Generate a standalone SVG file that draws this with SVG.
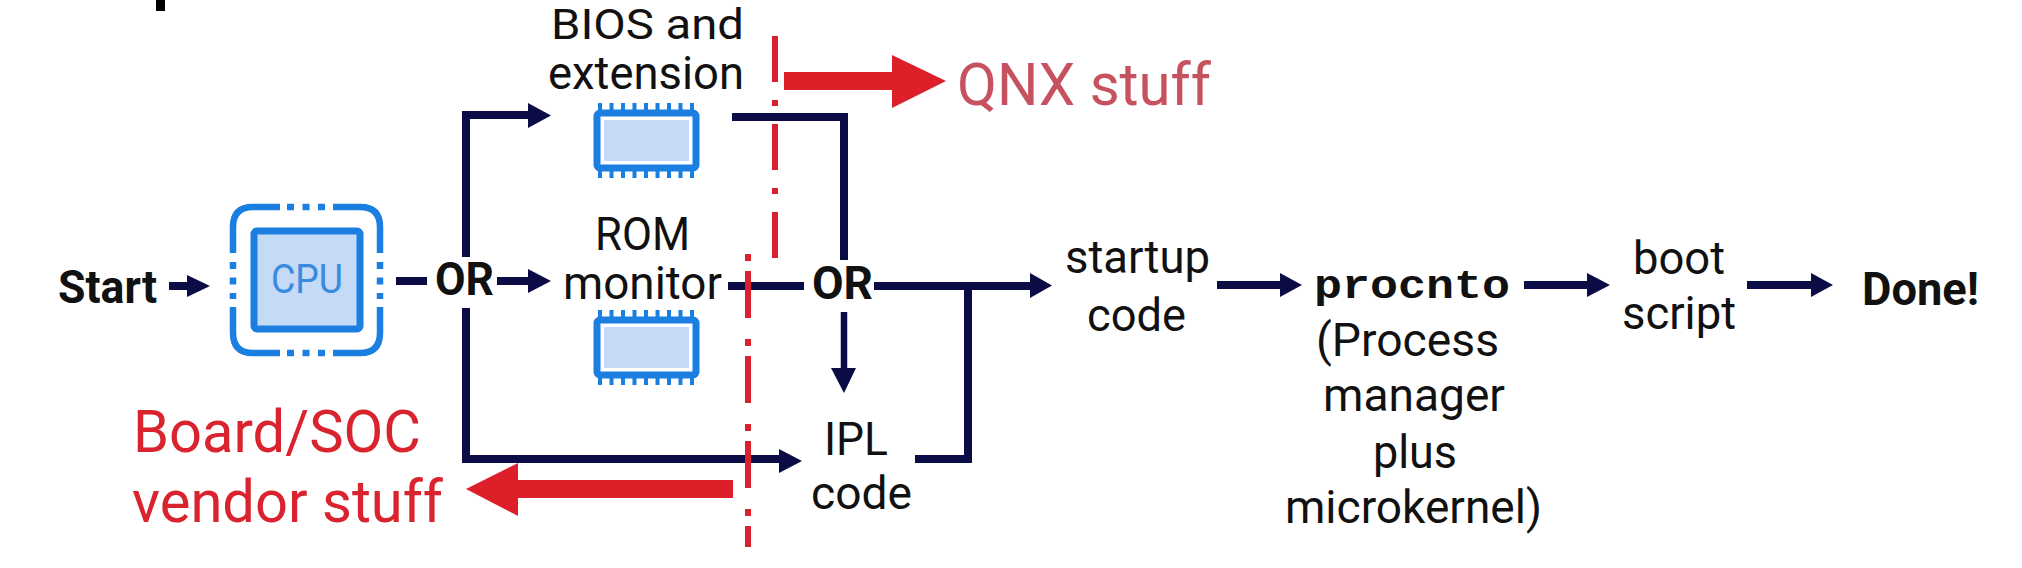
<svg xmlns="http://www.w3.org/2000/svg" width="2022" height="568" viewBox="0 0 2022 568">
<style>
text{font-family:Roboto,"Liberation Sans",sans-serif;fill:#111;font-size:46px}
.b{font-weight:700;font-size:46px}
.m{font-family:"Liberation Mono",monospace;font-weight:700;font-size:41px}
.r{fill:#d9232e;font-size:59px}
.q{fill:#c5525e;font-size:59px}
.c{fill:none;stroke:#0b0b45;stroke-width:8}
.h{fill:#0b0b45;stroke:none}
.red{fill:#dd1f2a}
.dd{fill:none;stroke:#dc2030;stroke-width:6}
.blue{fill:none;stroke:#1a7fe0;stroke-width:7}
.fill{fill:#c5daf6}
</style>
<defs>
<g id="chip">
<path d="M600 103V113M611.500 103V113M623 103V113M634.500 103V113M646 103V113M657.500 103V113M669 103V113M680.500 103V113M692 103V113M600 168V178M611.500 168V178M623 168V178M634.500 168V178M646 168V178M657.500 168V178M669 168V178M680.500 168V178M692 168V178" fill="none" stroke="#1a7fe0" stroke-width="4"/>
<rect x="597" y="113" width="99" height="55" rx="3" class="blue"/>
<rect x="604" y="120" width="85" height="41" class="fill"/>
</g>
</defs>
<rect x="156" y="0" width="9" height="11" fill="#000"/>
<g id="connectors">
<path class="c" d="M396 281H427"/>
<path class="c" d="M169 286H190"/><path class="h" d="M187 275L210 286L187 297Z"/>
<path class="c" d="M466 257V115H530"/><path class="h" d="M528 103L551 115.500L528 128Z"/>
<path class="c" d="M497 281H530"/><path class="h" d="M528 269L551 281L528 293Z"/>
<path class="c" d="M466 308V459H782"/><path class="h" d="M779 449L802 461L779 473Z"/>
<path class="c" d="M732 117H844V260"/>
<path class="c" d="M728 286H804"/>
<path class="c" d="M874 286H1032"/><path class="h" d="M1030 273L1052 285.500L1030 298Z"/>
<path class="c" style="stroke-width:6.500" d="M844 312V370"/><path class="h" d="M831 368H856L844 393Z"/>
<path class="c" d="M915 459H968V286"/>
<path class="c" d="M1217 285H1282"/><path class="h" d="M1280 273L1302 285L1280 297Z"/>
<path class="c" d="M1524 285H1589"/><path class="h" d="M1587 273L1610 285L1587 297Z"/>
<path class="c" d="M1747 285H1813"/><path class="h" d="M1811 273L1833 285L1811 297Z"/>
</g>
<g id="boundaries">
<path class="red" d="M733 480V498H518V516L466 489L518 463V480Z"/>
<path class="red" d="M784 72V90H892V108L946 81L892 55V72Z"/>
<path class="dd" stroke-dasharray="46 18 6 18" d="M775 36V258"/>
<path class="dd" stroke-dasharray="7 10 47 21" d="M748 254V547"/>
</g>
<g id="cpu">
<rect x="254" y="231" width="106" height="98" rx="3" class="fill"/>
<rect x="254" y="231" width="106" height="98" rx="3" class="blue"/>
<path class="blue" style="stroke-width:6.500" d="M233 253V227Q233 207 253 207H280M333 207H360Q380 207 380 227V253M233 307V333Q233 353 253 353H280M333 353H360Q380 353 380 333V307"/>
<path class="blue" style="stroke-width:6.500" stroke-dasharray="7 8.500" d="M287 207H327M287 353H327M233 262V299M380 262V299"/>
<text x="271" y="293" textLength="72" lengthAdjust="spacingAndGlyphs" style="fill:#3a8ade;font-size:41px">CPU</text>
</g>
<g id="start"><text class="b" x="58" y="303" textLength="99" lengthAdjust="spacingAndGlyphs">Start</text></g>
<g id="or1"><text class="b" x="435" y="295" textLength="59" lengthAdjust="spacingAndGlyphs">OR</text></g>
<g id="or2"><text class="b" x="812" y="299" textLength="61" lengthAdjust="spacingAndGlyphs">OR</text></g>
<g id="bios">
<text x="551" y="39" textLength="193" lengthAdjust="spacingAndGlyphs" style="font-size:42px">BIOS and</text>
<text x="548" y="89" textLength="196" lengthAdjust="spacingAndGlyphs">extension</text>
<use href="#chip"/>
</g>
<g id="rom">
<text x="595" y="250" textLength="95" lengthAdjust="spacingAndGlyphs">ROM</text>
<text x="563" y="299" textLength="159" lengthAdjust="spacingAndGlyphs">monitor</text>
<use href="#chip" y="207"/>
</g>
<g id="ipl">
<text x="824" y="455" textLength="64" lengthAdjust="spacingAndGlyphs">IPL</text>
<text x="811" y="509" textLength="101" lengthAdjust="spacingAndGlyphs">code</text>
</g>
<g id="startup">
<text x="1065" y="273" textLength="145" lengthAdjust="spacingAndGlyphs">startup</text>
<text x="1087" y="331" textLength="99" lengthAdjust="spacingAndGlyphs">code</text>
</g>
<g id="procnto">
<text class="m" x="1314" y="298" textLength="196" lengthAdjust="spacingAndGlyphs">procnto</text>
<text x="1316" y="356" textLength="183" lengthAdjust="spacingAndGlyphs">(Process</text>
<text x="1323" y="411" textLength="182" lengthAdjust="spacingAndGlyphs">manager</text>
<text x="1373" y="468" textLength="84" lengthAdjust="spacingAndGlyphs">plus</text>
<text x="1285" y="523" textLength="257" lengthAdjust="spacingAndGlyphs">microkernel)</text>
</g>
<g id="boot">
<text x="1633" y="274" textLength="92" lengthAdjust="spacingAndGlyphs">boot</text>
<text x="1622" y="329" textLength="114" lengthAdjust="spacingAndGlyphs">script</text>
</g>
<g id="done"><text class="b" x="1862" y="305" textLength="117" lengthAdjust="spacingAndGlyphs">Done!</text></g>
<g id="vendor">
<text class="r" x="133" y="452" textLength="288" lengthAdjust="spacingAndGlyphs">Board/SOC</text>
<text class="r" x="132" y="522" textLength="311" lengthAdjust="spacingAndGlyphs">vendor stuff</text>
</g>
<g id="qnx"><text class="q" x="957" y="105" textLength="254" lengthAdjust="spacingAndGlyphs">QNX stuff</text></g>
</svg>
